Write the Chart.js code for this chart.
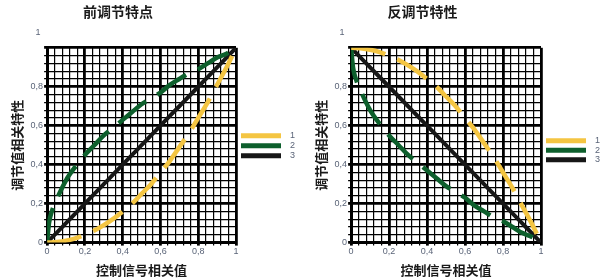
<!DOCTYPE html>
<html>
<head>
<meta charset="utf-8">
<script src="https://cdn.jsdelivr.net/npm/chart.js@4"></script>
<style>
  html, body { margin: 0; padding: 0; background: #fff; overflow: hidden; }
  #wrap { position: relative; width: 610px; height: 280px; }
  #leftChart { position: absolute; left: 0; top: 0; }
  #rightChart { position: absolute; left: 304px; top: 0; }
</style>
</head>
<body>
<div id="wrap">
  <canvas id="leftChart" width="305" height="280"></canvas>
  <canvas id="rightChart" width="322" height="280"></canvas>
</div>
<script>
// control signal (x) positions
const xs = [0, 0.01, 0.025, 0.05, 0.1, 0.15, 0.2, 0.25, 0.3, 0.35, 0.4, 0.45, 0.5,
  0.55, 0.6, 0.65, 0.7, 0.75, 0.8, 0.85, 0.9, 0.95, 1];

// 前调节特点
const leftYellow = [0, 0, 0.001, 0.003, 0.01, 0.022, 0.04, 0.062, 0.09, 0.122, 0.16, 0.2, 0.25,
  0.3, 0.36, 0.42, 0.49, 0.56, 0.64, 0.72, 0.81, 0.9, 1];
const leftGreen = [0, 0.1, 0.16, 0.22, 0.32, 0.39, 0.45, 0.5, 0.55, 0.59, 0.63, 0.67, 0.71,
  0.74, 0.77, 0.81, 0.84, 0.87, 0.89, 0.92, 0.95, 0.97, 1];
const leftBlack = [0, 0.01, 0.025, 0.05, 0.1, 0.15, 0.2, 0.25, 0.3, 0.35, 0.4, 0.45, 0.5,
  0.55, 0.6, 0.65, 0.7, 0.75, 0.8, 0.85, 0.9, 0.95, 1];

// 反调节特性
const rightYellow = [1, 1, 0.999, 0.997, 0.99, 0.978, 0.96, 0.938, 0.91, 0.878, 0.84, 0.8, 0.75,
  0.7, 0.64, 0.58, 0.51, 0.44, 0.36, 0.28, 0.19, 0.1, 0];
const rightGreen = [1, 0.9, 0.84, 0.78, 0.68, 0.61, 0.55, 0.5, 0.45, 0.41, 0.37, 0.33, 0.29,
  0.26, 0.23, 0.19, 0.16, 0.13, 0.11, 0.08, 0.05, 0.03, 0];
const rightBlack = [1, 0.99, 0.975, 0.95, 0.9, 0.85, 0.8, 0.75, 0.7, 0.65, 0.6, 0.55, 0.5,
  0.45, 0.4, 0.35, 0.3, 0.25, 0.2, 0.15, 0.1, 0.05, 0];

const seriesLabels = ['1', '2', '3'];
const seriesColors = ['#f4c542', '#0d5f2c', '#171717'];

const tickColor = '#5a6478';
const cjk = '"Noto Sans CJK SC", sans-serif';

const isMajor = v => Math.abs(v * 5 - Math.round(v * 5)) < 1e-6;
const fmt = v => String(+v.toFixed(1)).replace('.', ',');

// legend at the right side of the plot + the lifted "1" on the y axis
const sideLegend = {
  id: 'sideLegend',
  afterDraw(chart, args, opts) {
    const { ctx, chartArea } = chart;
    ctx.save();
    ctx.font = '9px "Liberation Sans", Arial, sans-serif';
    ctx.textBaseline = 'middle';
    chart.data.datasets.forEach((ds, i) => {
      const y = chartArea.top + opts.top + i * opts.gap;
      const x = chartArea.right + opts.left;
      ctx.strokeStyle = ds.borderColor;
      ctx.lineWidth = 5;
      ctx.beginPath();
      ctx.moveTo(x, y);
      ctx.lineTo(x + 40, y);
      ctx.stroke();
      ctx.fillStyle = tickColor;
      ctx.textAlign = 'left';
      ctx.fillText(ds.label, x + 49, y);
    });
    ctx.textAlign = 'center';
    ctx.fillStyle = tickColor;
    ctx.fillText('1', chartArea.left - 9, chartArea.top - 15);
    ctx.restore();
  }
};

function makeChart(id, title, ys, rightPad, legendTop, legendGap) {
  const datasets = ys.map((vals, i) => ({
    label: seriesLabels[i],
    data: xs.map((x, j) => ({ x: x, y: vals[j] })),
    borderColor: seriesColors[i],
    borderWidth: i === 2 ? 4 : 4.5,
    borderDash: i === 2 ? [] : [35, 13],
    borderCapStyle: 'butt',
    cubicInterpolationMode: 'monotone',
    pointRadius: 0,
    fill: false
  }));

  const gridOpts = {
    color: '#000',
    tickColor: '#000',
    tickLength: 3,
    lineWidth: c => (c.tick && isMajor(c.tick.value) ? 2.8 : 1.2)
  };

  return new Chart(document.getElementById(id), {
    type: 'line',
    data: { datasets },
    options: {
      responsive: false,
      animation: false,
      layout: { padding: { left: 0, right: rightPad, top: 0, bottom: 2 } },
      plugins: {
        legend: { display: false },
        tooltip: { enabled: false },
        title: {
          display: true,
          text: title,
          color: '#1a1a1a',
          font: { family: cjk, size: 14, weight: 'bold' },
          padding: { top: 3, bottom: 28 }
        },
        sideLegend: { left: 5, top: legendTop, gap: legendGap }
      },
      scales: {
        x: {
          type: 'linear',
          min: 0,
          max: 1,
          border: { display: true, color: '#000', width: 3 },
          grid: gridOpts,
          ticks: {
            stepSize: 0.04,
            autoSkip: false,
            maxRotation: 0,
            padding: 1,
            color: tickColor,
            font: { family: '"Liberation Sans", Arial, sans-serif', size: 9 },
            callback: v => (isMajor(v) ? fmt(v) : '')
          },
          title: {
            display: true,
            text: '控制信号相关值',
            color: '#1a1a1a',
            font: { family: cjk, size: 13, weight: 'bold' },
            padding: { top: 4, bottom: 0 }
          }
        },
        y: {
          type: 'linear',
          min: 0,
          max: 1,
          border: { display: true, color: '#000', width: 3 },
          grid: gridOpts,
          ticks: {
            stepSize: 0.04,
            autoSkip: false,
            padding: 1,
            color: tickColor,
            font: { family: '"Liberation Sans", Arial, sans-serif', size: 9 },
            callback: v => (isMajor(v) && v < 1 ? fmt(v) : '')
          },
          title: {
            display: true,
            text: '调节值相关特性',
            color: '#1a1a1a',
            font: { family: cjk, size: 13, weight: 'bold' },
            padding: { top: 9, bottom: 5 }
          }
        }
      }
    },
    plugins: [sideLegend]
  });
}

makeChart('leftChart', '前调节特点', [leftYellow, leftGreen, leftBlack], 69, 88, 10);
makeChart('rightChart', '反调节特性', [rightYellow, rightGreen, rightBlack], 85, 93, 9.5);
</script>
</body>
</html>
